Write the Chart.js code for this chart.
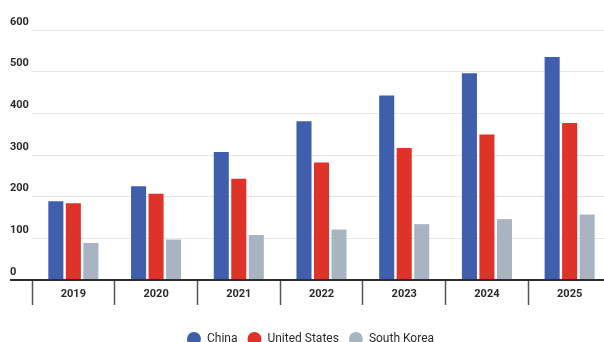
<!DOCTYPE html>
<html>
<head>
<meta charset="utf-8">
<script src="https://cdn.jsdelivr.net/npm/chart.js@4"></script>
<style>
html, body { margin: 0; padding: 0; background: #fff; overflow: hidden; }
#wrap { width: 611px; height: 355px; }
</style>
</head>
<body>
<div id="wrap"><canvas id="chart"></canvas></div>
<script>
const years = ['2019', '2020', '2021', '2022', '2023', '2024', '2025']
const china = [189, 225, 307, 381, 443, 496, 535]
const unitedStates = [184, 207, 243, 282, 317, 349, 377]
const southKorea = [89, 97, 108, 121, 134, 146, 157]

Chart.defaults.font.family = "Roboto, 'Open Sans', sans-serif"
Chart.defaults.font.size = 11
Chart.defaults.color = "#2b2b2b"
Chart.defaults.animation = false

function series(label, data, color){
    return {
        label: label,
        data: data,
        backgroundColor: color,
        borderWidth: 0,
        barPercentage: 0.86,
        categoryPercentage: 0.635
    }
}

new Chart(document.getElementById('chart'), {
    type: 'bar',
    data: {
        labels: years,
        datasets: [
            series('China', china, '#3f5eab'),
            series('United States', unitedStates, '#df3229'),
            series('South Korea', southKorea, '#a8b4c1')
        ]
    },
    options: {
        responsive: true,
        maintainAspectRatio: false,
        layout: {
            padding: {left: 10, right: 0, top: 30, bottom: 0}
        },
        scales: {
            y: {
                min: 0,
                max: 600,
                border: {display: false},
                grid: {
                    color: ctx => ctx.tick && ctx.tick.value === 0 ? '#2e2e2e' : '#e6e6e6',
                    lineWidth: ctx => ctx.tick && ctx.tick.value === 0 ? 2 : 1,
                    tickColor: ctx => ctx.tick && ctx.tick.value === 0 ? '#2e2e2e' : 'rgba(0,0,0,0)',
                    tickLength: 22
                },
                ticks: {
                    stepSize: 100,
                    crossAlign: 'far',
                    labelOffset: -8,
                    font: {weight: 'bold'}
                },
                afterFit: function(axis){
                    axis.width = 22
                }
            },
            x: {
                border: {display: true, color: '#2e2e2e', width: 2},
                grid: {
                    drawOnChartArea: false,
                    offset: true,
                    tickLength: 25,
                    tickColor: '#555',
                    tickWidth: 1.5
                },
                ticks: {
                    padding: -17,
                    font: {weight: 'bold'}
                },
                afterFit: function(axis){
                    axis.height = 43
                }
            }
        },
        plugins: {
            legend: {
                position: 'bottom',
                labels: {
                    usePointStyle: true,
                    pointStyle: 'circle',
                    pointStyleWidth: 14,
                    boxHeight: 10,
                    padding: 10,
                    font: {size: 12}
                }
            },
            tooltip: {enabled: false}
        }
    }
})
</script>
</body>
</html>
